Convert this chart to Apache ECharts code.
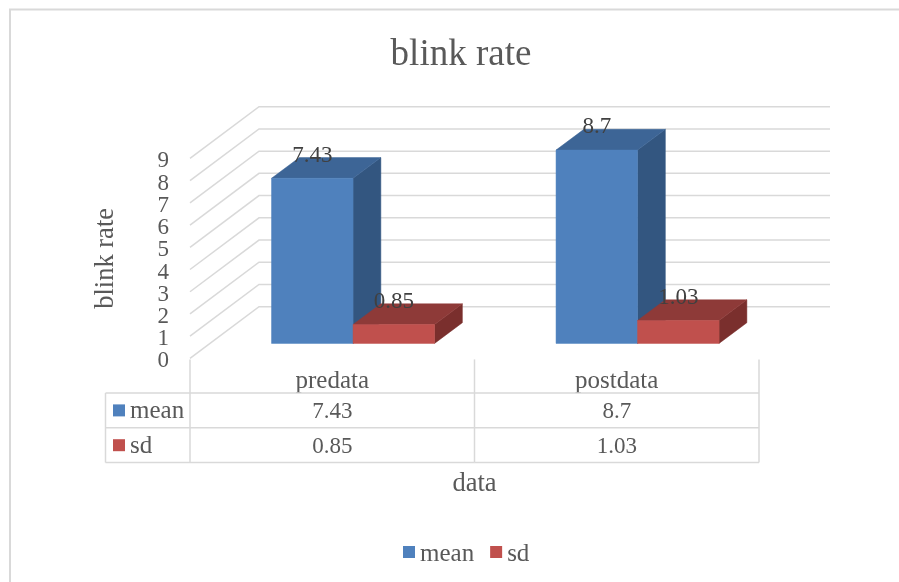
<!DOCTYPE html>
<html>
<head>
<meta charset="utf-8">
<style>html,body{margin:0;padding:0;background:#fff}#chart{width:899px;height:582px}</style>
<script src="https://cdn.jsdelivr.net/npm/echarts@6/dist/echarts.min.js"></script>
</head>
<body>
<div id="chart"></div>
<script>
// Blink rate: mean and sd before and after, as 3D-style columns with a data table.
const categories = ['predata', 'postdata'];
const meanValues = [7.43, 8.7];
const sdValues = [0.85, 1.03];
const yTicks = [0, 1, 2, 3, 4, 5, 6, 7, 8, 9];

const FONT = '"Liberation Serif", serif';
const TEXT = '#595959';
const RULE = '#d9d9d9';
const BLUE = { front: '#4f81bd', top: '#3d6596', side: '#335680' };
const RED = { front: '#c0504d', top: '#8e3a38', side: '#7a2f2d' };

// Pseudo-3D projection of the floor and the columns.
const WALL_DX = 69, WALL_DY = 51.7, WALL_RIGHT = 830;
const BAR_SHIFT_X = 20.8, BAR_SHIFT_Y = 15;
const BAR_DX = 27.8, BAR_DY = 20.7, BAR_BAND = 0.2865;

// Data table rows, below the plot.
const ROW_TOP = 393, ROW_H = 34.8, KEY_LEFT = 105.5;

const poly = (points, fill) => ({
  type: 'polygon',
  shape: { points },
  style: { fill, stroke: fill, lineWidth: 0.5 }
});

function columnRenderer(palette, slot) {
  return function (params, api) {
    const i = api.value(0), v = api.value(1);
    const base = api.coord([i, 0]);
    const top = api.coord([i, v]);
    const w = api.size([1, 0])[0] * BAR_BAND;
    const x0 = base[0] + BAR_SHIFT_X + (slot - 1) * w;
    const x1 = x0 + w;
    const yb = base[1] - BAR_SHIFT_Y;
    const yt = top[1] - BAR_SHIFT_Y;
    return {
      type: 'group',
      children: [
        poly([[x1, yb], [x1 + BAR_DX, yb - BAR_DY], [x1 + BAR_DX, yt - BAR_DY], [x1, yt]], palette.side),
        poly([[x0, yt], [x0 + BAR_DX, yt - BAR_DY], [x1 + BAR_DX, yt - BAR_DY], [x1, yt]], palette.top),
        poly([[x0, yb], [x1, yb], [x1, yt], [x0, yt]], palette.front),
        {
          type: 'text',
          style: {
            x: (x0 + x1) / 2, y: yt - 22.8,
            text: String(v), align: 'center', verticalAlign: 'middle',
            font: '23px ' + FONT, fill: '#404040'
          }
        }
      ]
    };
  };
}

// Side wall and back wall rules for each value tick, with the tick's label.
// The spacing is tighter than the label height, so the axis' own overlap
// handling would drop labels next to the first and last ticks.
function wallRenderer(params, api) {
  const v = api.value(0);
  const p = api.coord([0, v]);
  const left = p[0] - api.size([1, 0])[0] / 2;
  return {
    type: 'group',
    children: [
      {
        type: 'polyline',
        shape: { points: [[left, p[1]], [left + WALL_DX, p[1] - WALL_DY], [WALL_RIGHT, p[1] - WALL_DY]] },
        style: { fill: 'none', stroke: RULE, lineWidth: 1.5 }
      },
      {
        type: 'text',
        style: {
          x: left - 21, y: p[1] + 3,
          text: String(v), align: 'right', verticalAlign: 'middle',
          font: '23px ' + FONT, fill: TEXT
        }
      }
    ]
  };
}

// One table column per category, with the key column beside the first.
function tableRenderer(params, api) {
  const i = api.value(0);
  const c = api.coord([i, 0]);
  const band = api.size([1, 0])[0];
  const xl = c[0] - band / 2, xr = c[0] + band / 2, y0 = c[1];
  const line = (x1, y1, x2, y2) => ({
    type: 'line', shape: { x1, y1, x2, y2 },
    style: { stroke: RULE, lineWidth: 1.5 }
  });
  const cell = (text, x, y, align, size) => ({
    type: 'text',
    style: { x, y, text, align: align || 'center', verticalAlign: 'middle', font: (size || 23) + 'px ' + FONT, fill: TEXT }
  });
  const textDrop = 1.5;
  const children = [
    line(xr, y0 + 1, xr, ROW_TOP + ROW_H * 2),
    line(xl, ROW_TOP, xr, ROW_TOP),
    line(xl, ROW_TOP + ROW_H, xr, ROW_TOP + ROW_H),
    line(xl, ROW_TOP + ROW_H * 2, xr, ROW_TOP + ROW_H * 2),
    cell(String(meanValues[i]), c[0], ROW_TOP + ROW_H / 2 + textDrop),
    cell(String(sdValues[i]), c[0], ROW_TOP + ROW_H * 1.5 + textDrop)
  ];
  if (i === 0) {
    const rows = [['mean', BLUE.front], ['sd', RED.front]];
    children.push(
      line(xl, y0 + 1, xl, ROW_TOP + ROW_H * 2),
      line(KEY_LEFT, ROW_TOP, KEY_LEFT, ROW_TOP + ROW_H * 2),
      line(KEY_LEFT, ROW_TOP, xl, ROW_TOP),
      line(KEY_LEFT, ROW_TOP + ROW_H, xl, ROW_TOP + ROW_H),
      line(KEY_LEFT, ROW_TOP + ROW_H * 2, xl, ROW_TOP + ROW_H * 2)
    );
    rows.forEach(([name, color], r) => {
      const yc = ROW_TOP + ROW_H * (r + 0.5);
      children.push(
        { type: 'rect', shape: { x: 113, y: yc - 6, width: 12, height: 12 }, style: { fill: color } },
        cell(name, 130, yc + textDrop, 'left', 25)
      );
    });
  }
  return { type: 'group', children };
}

const chart = echarts.init(document.getElementById('chart'), null, { renderer: 'canvas' });
chart.setOption({
  animation: false,
  backgroundColor: '#fff',
  textStyle: { fontFamily: FONT },
  title: {
    text: 'blink rate',
    left: 456, top: 32, textAlign: 'center',
    textStyle: { fontFamily: FONT, fontSize: 37, fontWeight: 'normal', color: TEXT }
  },
  legend: {
    left: 403, top: 542, padding: 0,
    itemWidth: 12, itemHeight: 12, itemGap: 16,
    icon: 'rect',
    data: ['mean', 'sd'],
    formatter: '{t|{name}}',
    textStyle: {
      rich: { t: { fontFamily: FONT, fontSize: 25, color: TEXT, padding: [5, 0, 0, 0] } }
    }
  },
  graphic: [{
    type: 'polyline',
    shape: { points: [[10, 582], [10, 9.5], [899, 9.5]] },
    style: { fill: 'none', stroke: RULE, lineWidth: 2 },
    silent: true
  }],
  grid: { left: 190, width: 569, top: 158.4, height: 200, outerBoundsMode: 'none' },
  xAxis: {
    type: 'category',
    data: categories,
    axisLine: { show: false },
    axisTick: { show: false },
    axisLabel: { margin: 11, fontFamily: FONT, fontSize: 25, color: TEXT },
    name: 'data',
    nameLocation: 'middle',
    nameGap: 112,
    nameTextStyle: { fontFamily: FONT, fontSize: 26.5, color: TEXT }
  },
  yAxis: {
    type: 'value',
    min: 0, max: 9, interval: 1,
    axisLine: { show: false },
    axisTick: { show: false },
    splitLine: { show: false },
    axisLabel: { show: false },
    name: 'blink rate',
    nameLocation: 'middle',
    nameGap: 70,
    nameRotate: 90,
    nameTextStyle: { fontFamily: FONT, fontSize: 26.5, color: TEXT }
  },
  series: [
    {
      type: 'custom', name: 'walls', z: 1, silent: true,
      renderItem: wallRenderer,
      encode: { y: 0 },
      data: yTicks.map(v => [v])
    },
    {
      type: 'custom', name: 'table', z: 1, silent: true,
      renderItem: tableRenderer,
      encode: { x: 0 },
      data: categories.map((c, i) => [i])
    },
    {
      type: 'custom', name: 'mean', z: 2,
      itemStyle: { color: BLUE.front },
      renderItem: columnRenderer(BLUE, 0),
      encode: { x: 0, y: 1 },
      data: meanValues.map((v, i) => [i, v])
    },
    {
      type: 'custom', name: 'sd', z: 3,
      itemStyle: { color: RED.front },
      renderItem: columnRenderer(RED, 1),
      encode: { x: 0, y: 1 },
      data: sdValues.map((v, i) => [i, v])
    }
  ]
});
</script>
</body>
</html>
